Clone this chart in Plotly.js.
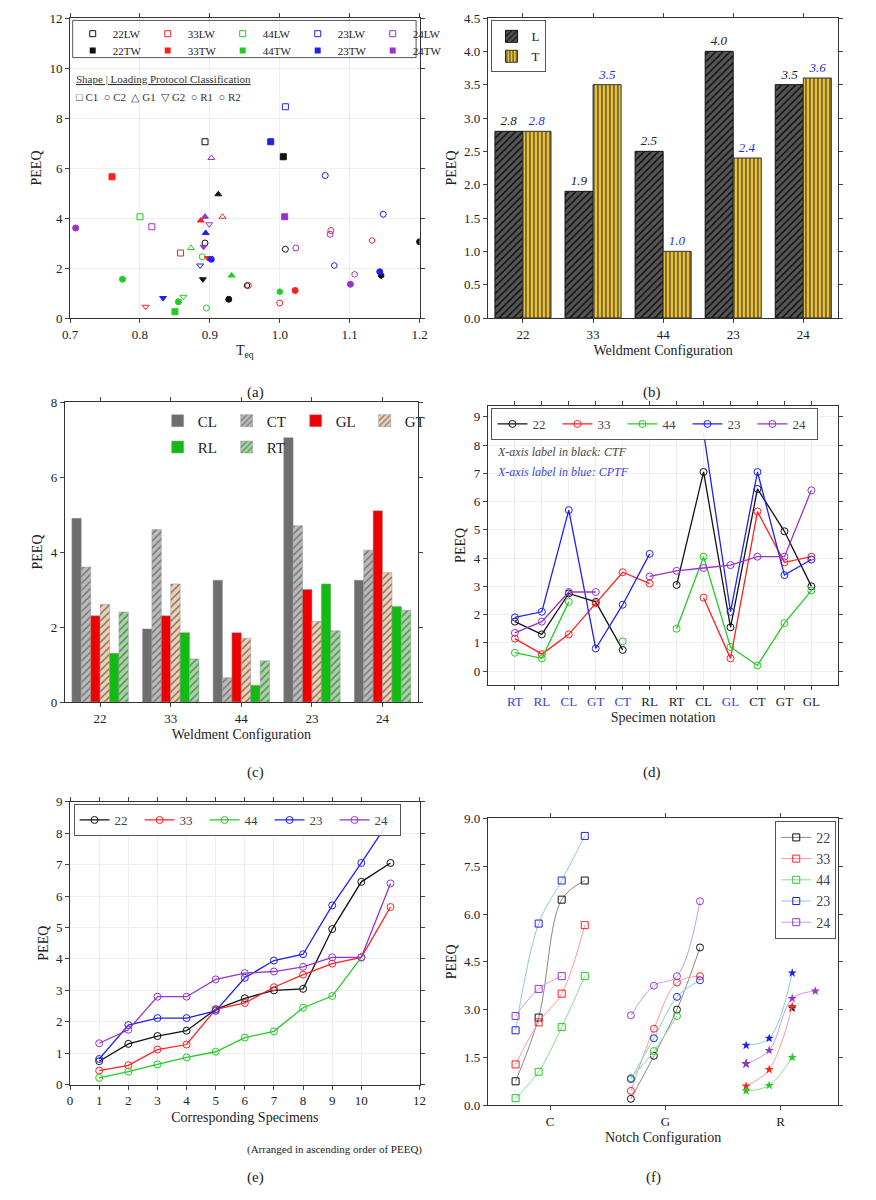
<!DOCTYPE html>
<html lang="en">
<head>
<meta charset="UTF-8" />
<script src="https://cdn.plot.ly/plotly-3.0.1.min.js"></script>
<style>body{margin:0;background:#fff}</style>
</head>
<body>
<div id="graph" style="width:876px;height:1200px"></div>
<script>
// ---- data ----
const configs = ["22", "33", "44", "23", "24"];

// (a) Teq vs PEEQ, class codes C1 C2 G1 G2 R1 R2
const aTeq_22LW = [0.893, 0.893, 1.008, 0.953];
const aPeeq_22LW = [7.05, 3.0, 2.75, 1.3];
const aCls_22LW = ["C1", "C2", "R1", "R2"];
const aTeq_22TW = [1.005, 0.912, 0.89, 0.927, 1.2, 1.145];
const aPeeq_22TW = [6.45, 4.95, 1.55, 0.75, 3.05, 1.7];
const aCls_22TW = ["C1", "G1", "G2", "C2", "R1", "R2"];
const aTeq_33LW = [0.858, 0.918, 0.955, 1.0, 1.132, 1.073, 0.808];
const aPeeq_33LW = [2.6, 4.05, 1.3, 0.6, 3.1, 3.5, 0.45];
const aCls_33LW = ["C1", "G1", "C2", "R1", "R2", "R1", "G2"];
const aTeq_33TW = [0.76, 0.887, 0.897, 1.022];
const aPeeq_33TW = [5.65, 3.9, 2.4, 1.1];
const aCls_33TW = ["C1", "G1", "G2", "R1"];
const aTeq_44LW = [0.8, 0.873, 0.889, 0.895, 0.862];
const aPeeq_44LW = [4.05, 2.8, 2.45, 0.4, 0.85];
const aCls_44LW = ["C1", "G1", "R1", "C2", "G2"];
const aTeq_44TW = [0.85, 0.775, 0.855, 0.931, 1.0];
const aPeeq_44TW = [0.25, 1.55, 0.65, 1.7, 1.05];
const aCls_44TW = ["C1", "C2", "R1", "G1", "R2"];
const aTeq_23LW = [1.008, 1.065, 1.148, 1.078, 0.886];
const aPeeq_23LW = [8.45, 5.7, 4.15, 2.1, 2.1];
const aCls_23LW = ["C1", "C2", "R1", "R2", "G2"];
const aTeq_23TW = [0.987, 0.894, 0.902, 0.833, 1.143];
const aPeeq_23TW = [7.05, 3.4, 2.35, 0.8, 1.85];
const aCls_23TW = ["C1", "G1", "C2", "G2", "R1"];
const aTeq_24LW = [0.817, 0.902, 0.899, 1.023, 1.072, 1.107];
const aPeeq_24LW = [3.65, 6.4, 3.75, 2.8, 3.35, 1.75];
const aCls_24LW = ["C1", "G1", "G2", "C2", "R1", "R2"];
const aTeq_24TW = [1.007, 0.708, 0.893, 0.891, 1.101];
const aPeeq_24TW = [4.05, 3.6, 4.05, 2.85, 1.35];
const aCls_24TW = ["C1", "C2", "G1", "G2", "R1"];

// (b) average PEEQ per weldment, L and T
const bL = [2.8, 1.9, 2.5, 4.0, 3.5];
const bT = [2.8, 3.5, 1.0, 2.4, 3.6];

// (c) PEEQ per notch / loading
const cCL = [4.9, 1.95, 3.25, 7.05, 3.25];
const cCT = [3.6, 4.6, 0.65, 4.7, 4.05];
const cGL = [2.3, 2.3, 1.85, 3.0, 5.1];
const cGT = [2.6, 3.15, 1.7, 2.15, 3.45];
const cRL = [1.3, 1.85, 0.45, 3.15, 2.55];
const cRT = [2.4, 1.15, 1.1, 1.9, 2.45];

// (d) specimen notation
const dLabels = ["RT", "RL", "CL", "GT", "CT", "RL", "RT", "CL", "GL", "CT", "GT", "GL"];
const dBlue = [true, true, true, true, true, false, false, false, true, false, false, false];
const d22 = [1.75, 1.3, 2.75, 2.45, 0.75, null, 3.05, 7.05, 1.55, 6.45, 4.95, 3.0];
const d33 = [1.15, 0.6, 1.3, 2.4, 3.5, 3.1, null, 2.6, 0.45, 5.65, 3.85, 4.05];
const d44 = [0.65, 0.45, 2.45, null, 1.05, null, 1.5, 4.05, 0.85, 0.2, 1.7, 2.85];
const d23 = [1.9, 2.1, 5.7, 0.8, 2.35, 4.15, null, 8.45, 2.1, 7.05, 3.4, 3.95];
const d24 = [1.35, 1.75, 2.8, 2.8, null, 3.35, 3.55, 3.65, 3.75, 4.05, 4.05, 6.4];

// (e) ascending order
const e22 = [0.75, 1.3, 1.55, 1.72, 2.4, 2.75, 3.0, 3.05, 4.95, 6.45, 7.05];
const e33 = [0.45, 0.62, 1.12, 1.28, 2.4, 2.6, 3.1, 3.5, 3.85, 4.05, 5.65];
const e44 = [0.22, 0.42, 0.65, 0.87, 1.05, 1.5, 1.7, 2.45, 2.82, 4.05];
const e23 = [0.82, 1.9, 2.12, 2.12, 2.35, 3.4, 3.95, 4.15, 5.7, 7.05, 8.45];
const e24 = [1.32, 1.75, 2.8, 2.8, 3.35, 3.55, 3.6, 3.75, 4.05, 4.05, 6.4];

// (f) by notch group C, G, R (four slots each)
const fNotch = ["C", "G", "R"];
const fC = {"22": [0.75, 2.75, 6.45, 7.05], "33": [1.28, 2.6, 3.5, 5.65], "44": [0.22, 1.05, 2.45, 4.05], "23": [2.35, 5.7, 7.05, 8.45], "24": [2.8, 3.65, 4.05, null]};
const fG = {"22": [0.2, 1.55, 3.0, 4.95], "33": [0.45, 2.4, 3.85, 4.05], "44": [0.85, 1.7, 2.8, null], "23": [0.82, 2.1, 3.4, 3.92], "24": [2.82, 3.75, 4.05, 6.4]};
const fR = {"22": [1.3, null, 3.05, null], "33": [0.6, 1.12, 3.1, null], "44": [0.45, 0.62, 1.5, null], "23": [1.88, 2.1, 4.15, null], "24": [1.3, 1.72, 3.35, 3.58]};

// ---- styling ----
const FONT = "Liberation Serif, Times New Roman, serif";
const col = {"22": "#111111", "33": "#ff2020", "44": "#22cc22", "23": "#2020ee", "24": "#9933cc"};
const lightCol = {"22": "#888888", "33": "#ff9999", "44": "#88dd88", "23": "#88ccdd", "24": "#cc99ee"};
const symOf = {C1: "square", C2: "circle", G1: "triangle-up", G2: "triangle-down", R1: "circle", R2: "hexagon"};

const traces = [];
const pairs = [
  ["22LW", aTeq_22LW, aPeeq_22LW, aCls_22LW], ["33LW", aTeq_33LW, aPeeq_33LW, aCls_33LW],
  ["44LW", aTeq_44LW, aPeeq_44LW, aCls_44LW], ["23LW", aTeq_23LW, aPeeq_23LW, aCls_23LW],
  ["24LW", aTeq_24LW, aPeeq_24LW, aCls_24LW],
  ["22TW", aTeq_22TW, aPeeq_22TW, aCls_22TW], ["33TW", aTeq_33TW, aPeeq_33TW, aCls_33TW],
  ["44TW", aTeq_44TW, aPeeq_44TW, aCls_44TW], ["23TW", aTeq_23TW, aPeeq_23TW, aCls_23TW],
  ["24TW", aTeq_24TW, aPeeq_24TW, aCls_24TW]
];
pairs.forEach(([name, xs, ys, cls]) => {
  const c = col[name.slice(0, 2)];
  const open = name.endsWith("LW");
  traces.push({
    x: xs, y: ys, type: "scatter", mode: "markers", xaxis: "x", yaxis: "y", showlegend: false,
    marker: {color: c, size: 6, symbol: cls.map(k => symOf[k] + (open ? "-open" : "")), line: {color: c, width: 1}}
  });
  traces.push({
    x: [null], y: [null], type: "scatter", mode: "markers", name: name, xaxis: "x", yaxis: "y",
    legend: open ? "legend" : "legend7",
    marker: {color: c, size: 6, symbol: open ? "square-open" : "square"}
  });
});

// (b)
traces.push({x: configs, y: bL, type: "bar", name: "L", xaxis: "x2", yaxis: "y2", legend: "legend2",
  text: bL.map(v => "<i>" + v.toFixed(1) + "</i>"), textposition: "outside", cliponaxis: false,
  textfont: {family: FONT, size: 13, color: "#222"},
  marker: {color: "#444", line: {color: "#111", width: 1}, pattern: {shape: "/", fgcolor: "#111", bgcolor: "#555", size: 5}}});
traces.push({x: configs, y: bT, type: "bar", name: "T", xaxis: "x2", yaxis: "y2", legend: "legend2",
  text: bT.map(v => "<i>" + v.toFixed(1) + "</i>"), textposition: "outside", cliponaxis: false,
  textfont: {family: FONT, size: 13, color: "#2233dd"},
  marker: {color: "#f0c330", line: {color: "#333", width: 1}, pattern: {shape: "|", fgcolor: "#333", bgcolor: "#f0c330", size: 4}}});

// (c)
const cSeries = [
  ["CL", cCL, "#6e6e6e", ""], ["CT", cCT, "#bbbbbb", "/"], ["GL", cGL, "#ee0000", ""],
  ["GT", cGT, "#f6cfae", "/"], ["RL", cRL, "#11bb11", ""], ["RT", cRT, "#99dd99", "/"]
];
cSeries.forEach(([n, v, c, p], i) => {
  traces.push({x: configs, y: v, type: "bar", name: n, xaxis: "x3", yaxis: "y3", legend: i < 4 ? "legend3" : "legend8",
    marker: {color: c, line: {color: "#999", width: 0.5}, pattern: {shape: p, fgcolor: "#777", bgcolor: c, size: 5}}});
});

// (d)
const dX = dLabels.map((_, i) => i + 1);
[["22", d22], ["33", d33], ["44", d44], ["23", d23], ["24", d24]].forEach(([n, v]) => {
  traces.push({x: dX, y: v, type: "scatter", mode: "lines+markers", name: n, xaxis: "x4", yaxis: "y4", legend: "legend4",
    line: {color: col[n], width: 1.3}, marker: {symbol: "circle-open", size: 7, color: col[n]}});
});

// (e)
[["22", e22], ["33", e33], ["44", e44], ["23", e23], ["24", e24]].forEach(([n, v]) => {
  traces.push({x: v.map((_, i) => i + 1), y: v, type: "scatter", mode: "lines+markers", name: n, xaxis: "x5", yaxis: "y5", legend: "legend5",
    line: {color: col[n], width: 1.3}, marker: {symbol: "circle-open", size: 7, color: col[n]}});
});

// (f) groups at slots 1-4, 6-9, 11-14
configs.forEach(n => {
  const ys = [...fC[n], null, ...fG[n], null, ...fR[n]];
  const xs = ys.map((_, i) => i + 1);
  const sym = ys.map((_, i) => i < 4 ? "square-open" : i < 9 ? "circle-open" : "star");
  traces.push({x: xs, y: ys, type: "scatter", mode: "lines+markers", name: n, xaxis: "x6", yaxis: "y6", showlegend: false,
    line: {color: lightCol[n], width: 1, shape: "spline"}, connectgaps: false,
    marker: {symbol: sym, size: 7, color: col[n]}});
});
configs.forEach(n => traces.push({x: [null], y: [null], type: "scatter", mode: "lines+markers", name: n, xaxis: "x6", yaxis: "y6",
  legend: "legend6", line: {color: lightCol[n], width: 1}, marker: {symbol: "square-open", size: 7, color: col[n]}}));

// ---- layout ----
const ax = (dom, extra) => Object.assign({domain: dom, showline: true, mirror: "ticks", linecolor: "#333", linewidth: 1,
  ticks: "outside", ticklen: 4, tickfont: {family: FONT, size: 13, color: "#222"}, zeroline: false, showgrid: false}, extra);
const ttl = t => ({text: t, font: {family: FONT, size: 14, color: "#222"}, standoff: 4});
const grid = {showgrid: true, gridcolor: "#eeeeee"};

const leg = (x, y, extra) => Object.assign({x: x, y: y, xanchor: "left", yanchor: "top", bgcolor: "rgba(255,255,255,0.9)",
  bordercolor: "#555", borderwidth: 1, font: {family: FONT, size: 13, color: "#222"}}, extra);
const rowLeg = (x, y, w, size) => leg(x, y, {orientation: "h", entrywidth: w, itemwidth: 30, borderwidth: 0,
  bgcolor: "rgba(0,0,0,0)", font: {family: FONT, size: size, color: "#222"}, tracegroupgap: 0});

const layout = {
  width: 876, height: 1200, margin: {l: 0, r: 0, t: 0, b: 0}, paper_bgcolor: "#fff", plot_bgcolor: "#fff",
  font: {family: FONT}, showlegend: true, barmode: "group",
  xaxis: ax([0.080, 0.479], Object.assign({anchor: "y", range: [0.7, 1.2], dtick: 0.1, tickformat: ".1f", title: ttl("T<sub>eq</sub>")}, grid)),
  yaxis: ax([0.735, 0.985], Object.assign({anchor: "x", range: [0, 12], dtick: 2, title: ttl("PEEQ")}, grid)),
  xaxis2: ax([0.557, 0.957], {anchor: "y2", title: ttl("Weldment Configuration"), type: "category"}),
  yaxis2: ax([0.735, 0.985], {anchor: "x2", range: [0, 4.5], dtick: 0.5, tickformat: ".1f", title: ttl("PEEQ")}),
  xaxis3: ax([0.074, 0.477], {anchor: "y3", title: ttl("Weldment Configuration"), type: "category"}),
  yaxis3: ax([0.415, 0.665], {anchor: "x3", range: [0, 8], dtick: 2, title: ttl("PEEQ")}),
  xaxis4: ax([0.557, 0.957], Object.assign({anchor: "y4", range: [0, 13], tickvals: dX,
    ticktext: dLabels.map((l, i) => dBlue[i] ? "<span style='color:#3344dd'>" + l + "</span>" : l),
    title: ttl("Specimen notation")}, grid)),
  yaxis4: ax([0.429, 0.662], Object.assign({anchor: "x4", range: [-0.5, 9.4], dtick: 1, title: ttl("PEEQ")}, grid)),
  xaxis5: ax([0.080, 0.479], Object.assign({anchor: "y5", range: [0, 12], tickvals: [0, 1, 2, 3, 4, 5, 6, 7, 8, 9, 10, 12],
    title: ttl("Corresponding Specimens")}, grid)),
  yaxis5: ax([0.096, 0.332], Object.assign({anchor: "x5", range: [0, 9], dtick: 1, title: ttl("PEEQ")}, grid)),
  xaxis6: ax([0.557, 0.957], {anchor: "y6", range: [-0.2, 15], tickvals: [2.5, 7.5, 12.5], ticktext: fNotch,
    title: ttl("Notch Configuration")}),
  yaxis6: ax([0.079, 0.318], {anchor: "x6", range: [0, 9], dtick: 1.5, tickformat: ".1f", title: ttl("PEEQ")}),
  legend: rowLeg(0.083, 0.984, 30, 11),
  legend7: rowLeg(0.083, 0.970, 30, 11),
  legend2: leg(0.560, 0.983, {borderwidth: 1}),
  legend3: rowLeg(0.18, 0.663, 24, 15),
  legend8: rowLeg(0.18, 0.641, 24, 15),
  legend4: leg(0.561, 0.660, {orientation: "h", entrywidth: 20, itemwidth: 30, font: {family: FONT, size: 13}}),
  legend5: leg(0.084, 0.330, {orientation: "h", entrywidth: 20, itemwidth: 30, font: {family: FONT, size: 13}}),
  legend6: leg(0.885, 0.316, {font: {family: FONT, size: 14}}),
  shapes: [{type: "rect", xref: "paper", yref: "paper", x0: 0.083, x1: 0.475, y0: 0.952, y1: 0.983,
    line: {color: "#555", width: 1}}],
  annotations: [
    {xref: "paper", yref: "paper", x: 0.085, y: 0.941, xanchor: "left", showarrow: false,
      text: "<u>Shape | Loading Protocol Classification</u>", font: {family: FONT, size: 11, color: "#333"}},
    {xref: "paper", yref: "paper", x: 0.085, y: 0.926, xanchor: "left", showarrow: false,
      text: "□ C1  ○ C2  △ G1  ▽ G2  ○ R1  ○ R2", font: {family: FONT, size: 11, color: "#333"}},
    {xref: "paper", yref: "paper", x: 0.565, y: 0.623, xanchor: "left", showarrow: false,
      text: "<i>X-axis label in black: CTF</i>", font: {family: FONT, size: 12, color: "#444"}},
    {xref: "paper", yref: "paper", x: 0.565, y: 0.607, xanchor: "left", showarrow: false,
      text: "<i>X-axis label in blue: CPTF</i>", font: {family: FONT, size: 12, color: "#3344dd"}},
    {xref: "paper", yref: "paper", x: 0.28, y: 0.035, showarrow: false,
      text: "(Arranged in ascending order of PEEQ)", font: {family: FONT, size: 11, color: "#222"}},
    ...[["(a)", 0.28, 0.682], ["(b)", 0.757, 0.682], ["(c)", 0.28, 0.356], ["(d)", 0.757, 0.356],
        ["(e)", 0.28, 0.010], ["(f)", 0.757, 0.010]].map(([t, x, y]) => ({xref: "paper", yref: "paper", x: x, y: y,
      showarrow: false, text: t, font: {family: FONT, size: 15, color: "#222"}}))
  ]
};

Plotly.newPlot("graph", traces, layout, {staticPlot: true});
</script>
</body>
</html>
